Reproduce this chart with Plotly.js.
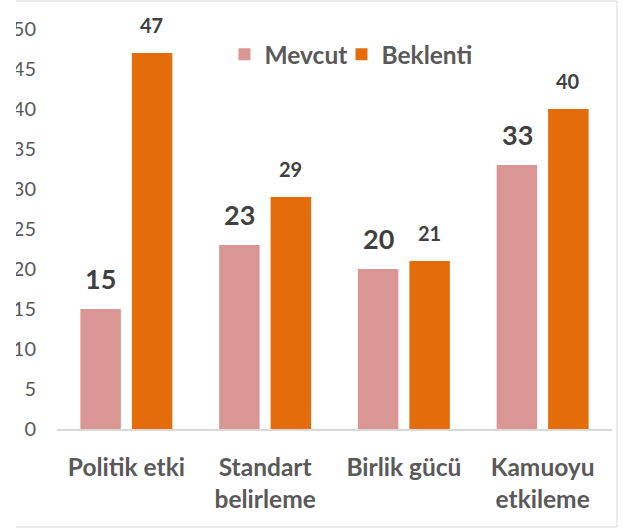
<!DOCTYPE html>
<html>
<head>
<meta charset="utf-8">
<script src="https://cdn.plot.ly/plotly-3.0.1.min.js"></script>
<style>
  html, body { margin: 0; padding: 0; background: #ffffff; }
  #chart { width: 628px; height: 532px; }
</style>
</head>
<body>
<div id="chart"></div>
<script>
const categories = ["Politik etki", "Standart<br>belirleme", "Birlik gücü", "Kamuoyu<br>etkileme"];
const seriesNames = ["Mevcut", "Beklenti"];
const mevcut = [15, 23, 20, 33];
const beklenti = [47, 29, 21, 40];
const yTicks = [0, 5, 10, 15, 20, 25, 30, 35, 40, 45, 50];

const FONT = "Lato, 'Open Sans', sans-serif";
const C_MEV = "#D99694";
const C_BEK = "#E46C0A";
const TXT = "#595959";
const LBL = "#404040";

const traces = [
  { type: "bar", name: seriesNames[0], x: categories, y: mevcut, legend: "legend",
    marker: { color: C_MEV }, hoverinfo: "x+y" },
  { type: "bar", name: seriesNames[1], x: categories, y: beklenti, legend: "legend2",
    marker: { color: C_BEK }, hoverinfo: "x+y" }
];

const annotations = [];
categories.forEach((c, i) => {
  annotations.push({ x: c, y: mevcut[i], xref: "x", yref: "y", text: String(mevcut[i]),
    showarrow: false, xshift: -25.5, yshift: 31, yanchor: "middle",
    font: { family: FONT, size: 27, color: LBL, weight: "bold" } });
  annotations.push({ x: c, y: beklenti[i], xref: "x", yref: "y", text: String(beklenti[i]),
    showarrow: false, xshift: 25.5, yshift: 28, yanchor: "middle",
    font: { family: FONT, size: 20, color: LBL, weight: "bold" } });
});

const legendFont = { family: FONT, size: 24.5, color: TXT, weight: "bold" };

const layout = {
  width: 628, height: 532,
  margin: { l: 57, r: 16, t: 29, b: 103, pad: 0 },
  paper_bgcolor: "#ffffff", plot_bgcolor: "#ffffff",
  barmode: "group", bargap: 0.258, bargroupgap: 0.214,
  font: { family: FONT, color: TXT },
  showlegend: true,
  legend: { orientation: "h", x: 0.3018, xanchor: "left", y: 0.937, yanchor: "middle",
    font: legendFont, bgcolor: "rgba(0,0,0,0)", itemwidth: 30 },
  legend2: { orientation: "h", x: 0.5126, xanchor: "left", y: 0.937, yanchor: "middle",
    font: legendFont, bgcolor: "rgba(0,0,0,0)", itemwidth: 30 },
  xaxis: { type: "category", showgrid: false, zeroline: false,
    showline: true, linecolor: "#D9D9D9", linewidth: 1.5,
    ticks: "", ticklabelstandoff: 16,
    tickfont: { family: FONT, size: 24.5, color: TXT, weight: "bold" } },
  yaxis: { range: [0, 50], tickmode: "array", tickvals: yTicks, ticktext: yTicks.map(String),
    showgrid: false, zeroline: false, showline: false, ticks: "",
    ticklabelstandoff: 20,
    tickfont: { family: FONT, size: 20, color: TXT } },
  annotations: annotations,
  shapes: [
    { type: "rect", xref: "paper", yref: "paper", x0: -0.2, x1: 1.009, y0: -0.245, y1: 1.07,
      line: { color: "#D9D9D9", width: 1 }, fillcolor: "rgba(0,0,0,0)", layer: "below" },
    { type: "rect", xref: "paper", yref: "paper", x0: -0.2, x1: -0.0739, y0: -0.3, y1: 1.2,
      line: { width: 0 }, fillcolor: "#ffffff", layer: "above" }
  ]
};

Plotly.newPlot("chart", traces, layout, { displayModeBar: false, staticPlot: true });
</script>
</body>
</html>
